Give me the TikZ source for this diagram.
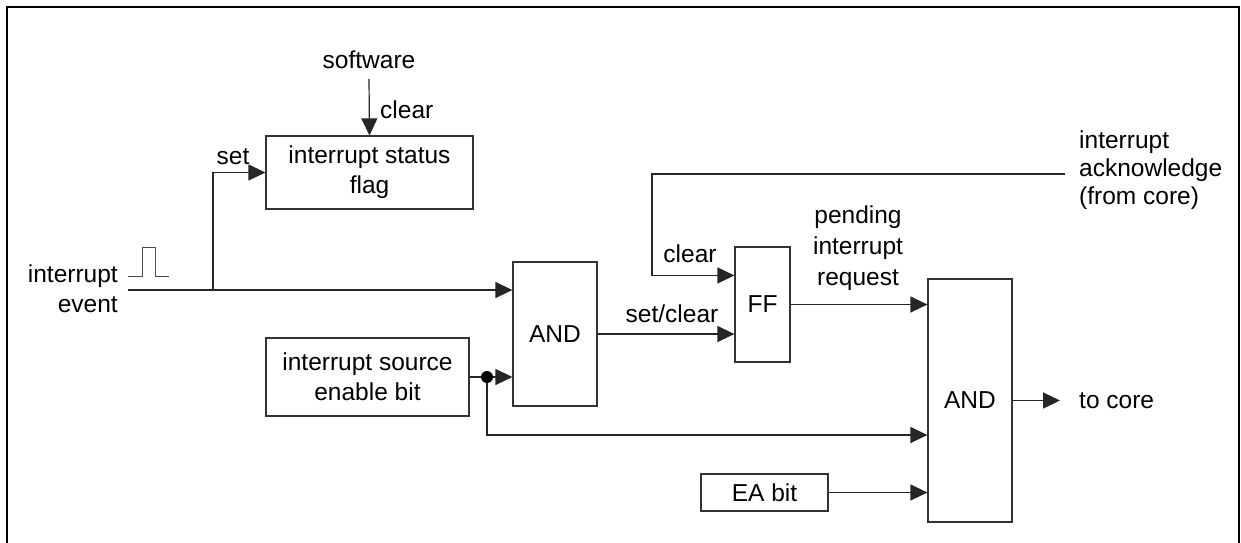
\documentclass[tikz,border=0pt]{standalone}
\usepackage{fontspec}
\setmainfont{Liberation Sans}
\usetikzlibrary{calc, positioning, arrows.meta}

\begin{document}
\begin{tikzpicture}[x=1pt, y=-1pt,
	font=\fontsize{24.5}{30}\selectfont,
	box/.style={draw=black!80, line width=1.2pt, inner sep=0pt, align=center},
	wire/.style={line width=1.2pt, draw=black!85},
	sig/.style={wire, -{Triangle[length=17pt, width=16pt]}},
	lbl/.style={inner sep=0pt, align=center},
	junc/.style={circle, fill=black, inner sep=0pt, minimum size=12pt}]
	\useasboundingbox (0,0) rectangle (1241,542);
	\draw[line width=2.5pt] (7,545) -- (7,7) -- (1239,7) -- (1239,545);
	% blocks
	\node[box, minimum width=207pt, minimum height=73pt] (flag) at (369.5,172.5) {interrupt status\\flag};
	\node[box, minimum width=203pt, minimum height=78pt] (srcen) at (367.5,377) {interrupt source\\enable bit};
	\node[box, minimum width=84pt, minimum height=144pt] (and1) at (555,334) {AND};
	\node[box, minimum width=55pt, minimum height=115pt] (ff) at (762.5,304.5) {FF};
	\node[box, minimum width=84pt, minimum height=243pt] (and2) at (970,400.5) {AND};
	\node[box, minimum width=127pt, minimum height=37pt] (eabit) at (764.5,492.5) {EA bit};
	\node[junc] (dot) at (487,377) {};
	% texts
	\node[lbl] (software) at (369,60) {software};
	\node[lbl, anchor=west] (clr1) at (380,110) {clear};
	\node[lbl] (setlbl) at (233,157) {set};
	\node[lbl, align=right, anchor=east] (event) at (118,288.5) {interrupt\\event};
	\node[lbl] (clr2) at (690,254) {clear};
	\node[lbl] (setclr) at (672,314) {set/clear};
	\node[lbl, font=\fontsize{24.5}{31}\selectfont] (pending) at (858,248) {pending\\interrupt\\request};
	\node[lbl, align=left, anchor=west, font=\fontsize{24.5}{28}\selectfont] (ack) at (1079,170) {interrupt\\acknowledge\\(from core)};
	\node[lbl, anchor=west] (tocore) at (1079,400.5) {to core};
	% pulse
	\draw[line width=1pt, black!70] (128,276) -- ++(14,0) -- ++(0,-29) -- ++(13,0) -- ++(0,29) -- ++(14,0);
	% signals
	\coordinate (evt) at (128,290);
	\coordinate (split) at (213,290);
	\coordinate (enlow) at (487,435);
	\coordinate (ackin) at (1065,174);
	\coordinate (ackturn) at (652,174);
	\draw[sig] (evt) -- (evt -| and1.west);
	\draw[sig] (split) |- (flag.west);
	\draw[sig] ([yshift=-10pt]software.south) -- (flag.north);
	\draw[wire] (srcen.east) -- (dot);
	\draw[sig] (dot) -- (dot -| and1.west);
	\draw[sig] (dot) -- (enlow) -- (enlow -| and2.west);
	\draw[sig] (and1.east) -- (and1.east -| ff.west);
	\draw[sig] (ackin) -- (ackturn) |- ($(ff.north west)!.25!(ff.south west)$);
	\draw[sig] (ff.east) -- (ff.east -| and2.west);
	\draw[sig] (eabit.east) -- (eabit.east -| and2.west);
	\draw[sig] (and2.east) -- ([xshift=-19pt]tocore.west);
\end{tikzpicture}
\end{document}
